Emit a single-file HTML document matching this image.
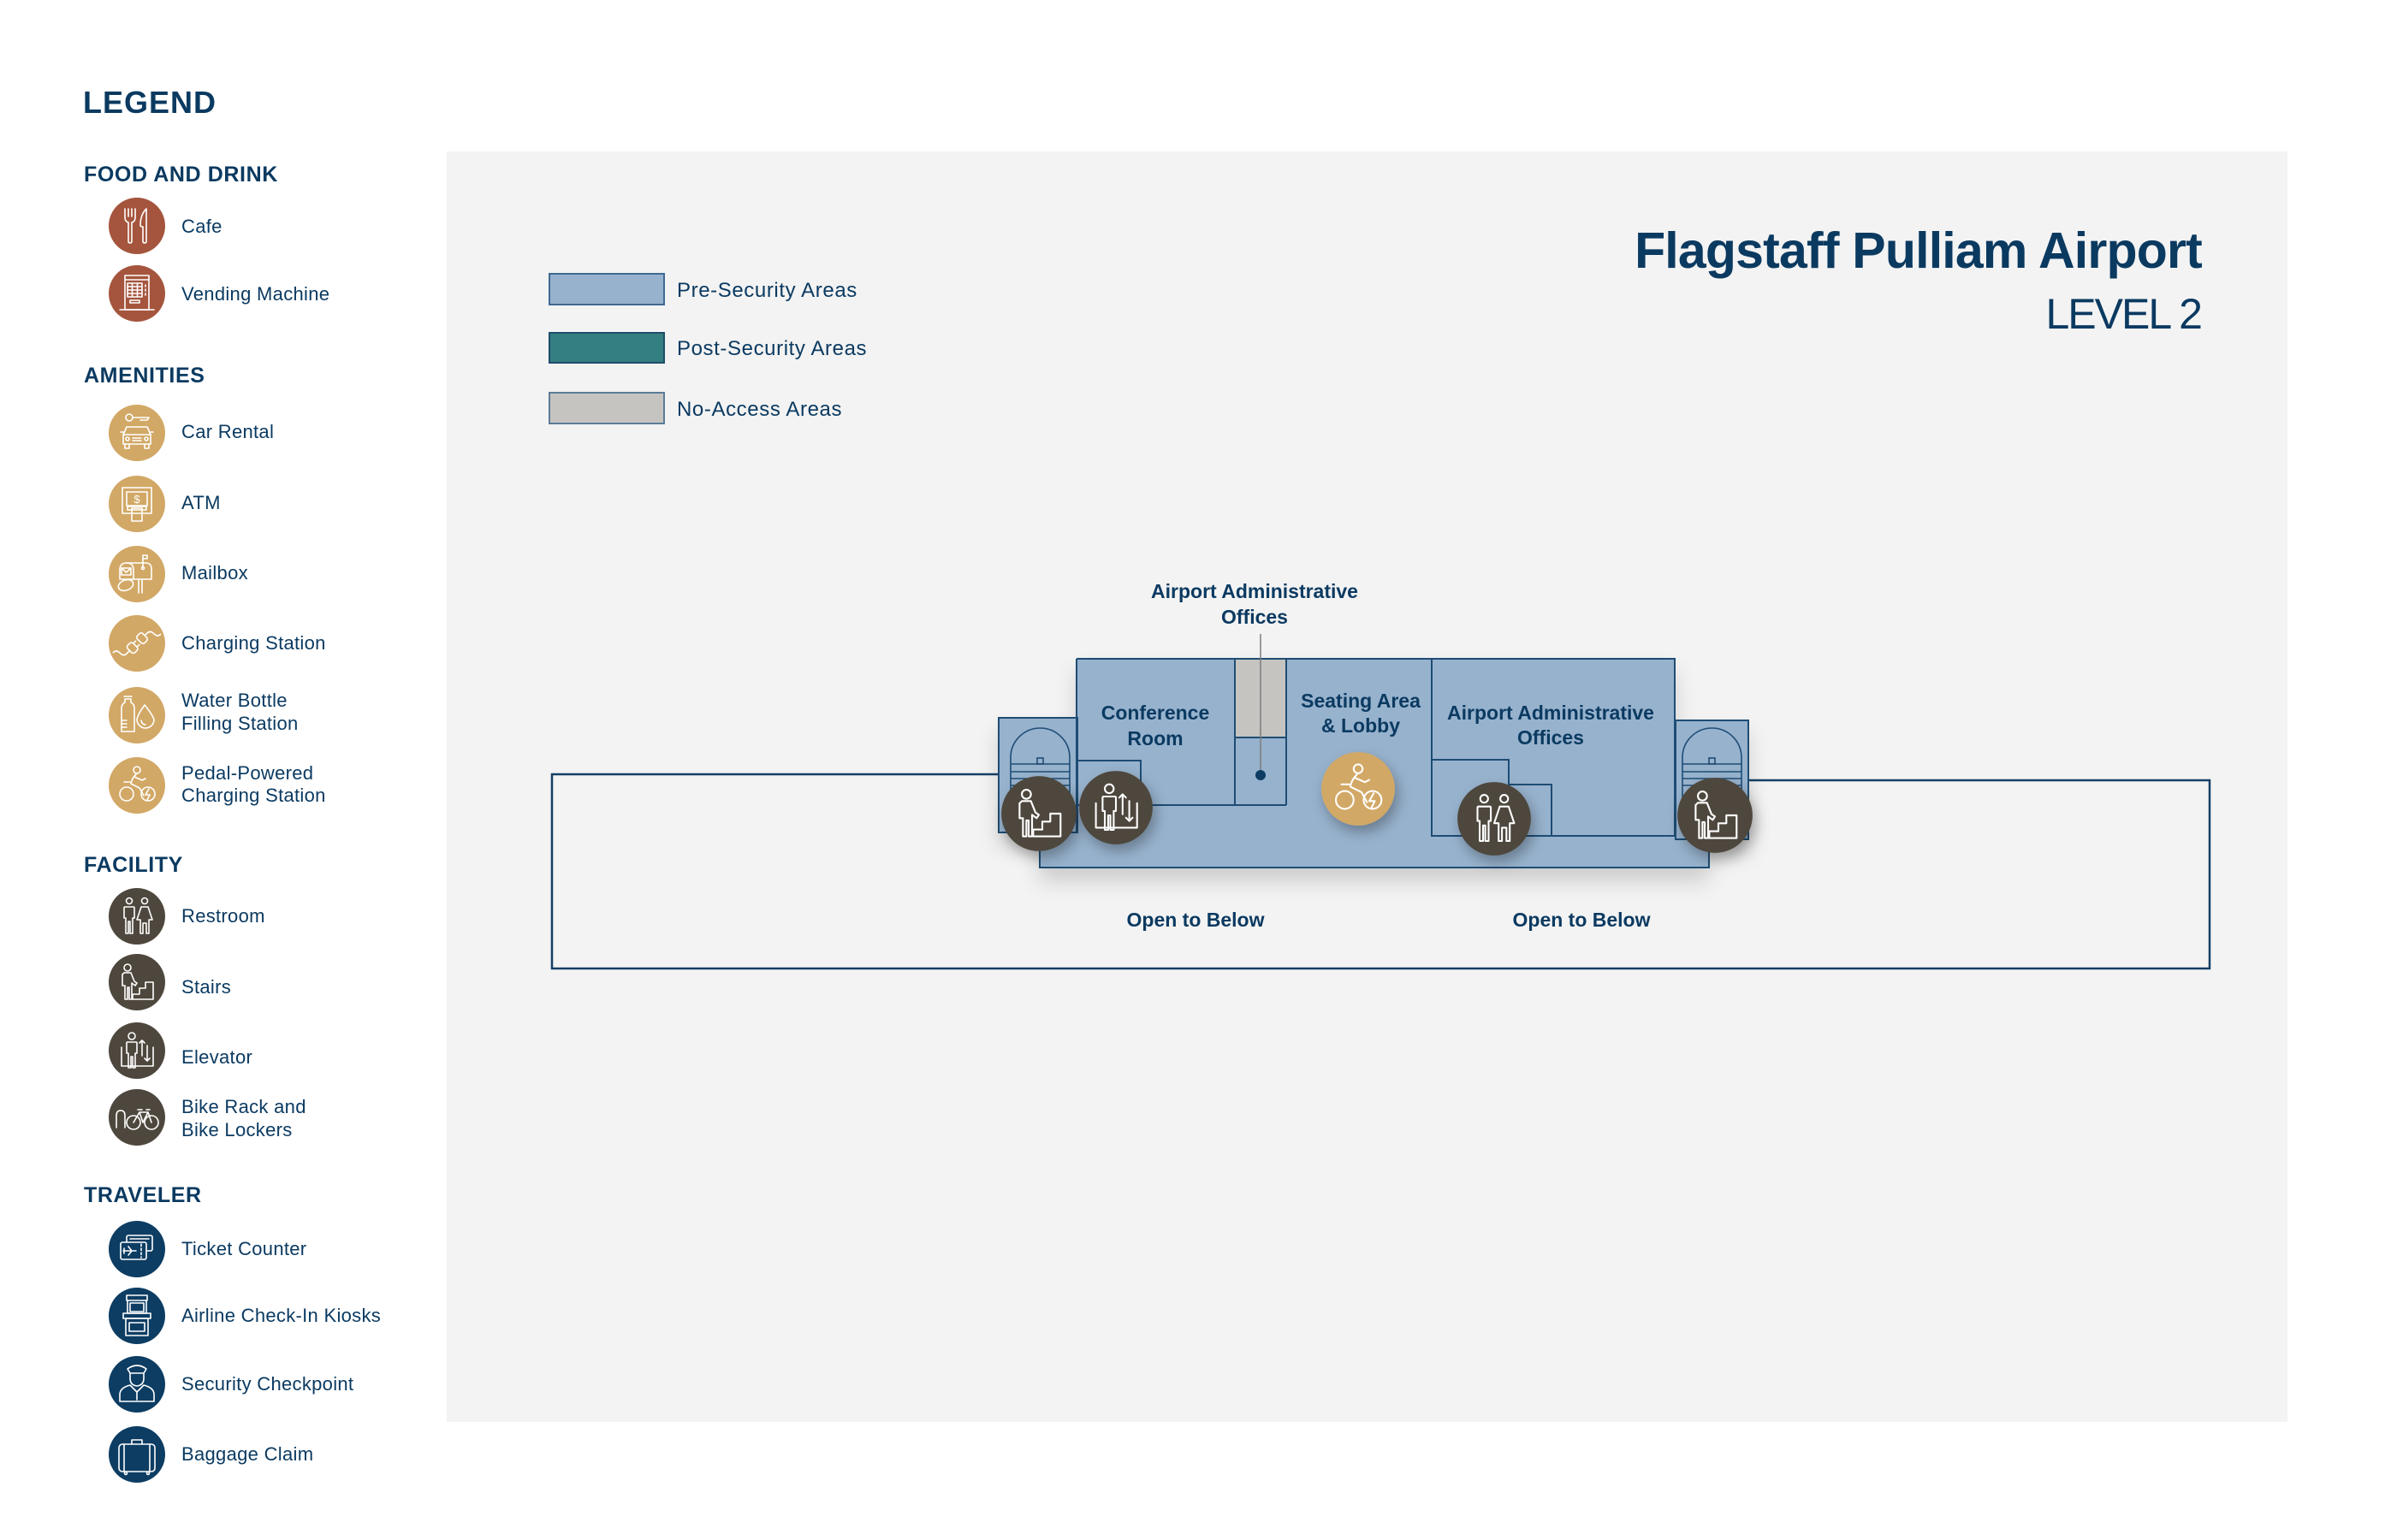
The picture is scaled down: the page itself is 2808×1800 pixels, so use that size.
<!DOCTYPE html>
<html><head><meta charset="utf-8"><style>
html,body{margin:0;padding:0;background:#fff;}
svg{display:block;}
text{font-family:"Liberation Sans",Arial,sans-serif;}
.ic{fill:none;stroke:#fff;stroke-width:1.6;stroke-linecap:round;stroke-linejoin:round;}
</style></head><body>
<svg width="2808" height="1800" viewBox="0 0 2808 1800" xmlns="http://www.w3.org/2000/svg">
<defs>
<filter id="bsh" x="-10%" y="-30%" width="120%" height="190%">
<feDropShadow dx="0" dy="16" stdDeviation="12" flood-color="#000" flood-opacity="0.16"/>
</filter>
<filter id="csh" x="-40%" y="-40%" width="190%" height="190%">
<feDropShadow dx="3" dy="6" stdDeviation="6" flood-color="#000" flood-opacity="0.3"/>
</filter>
<g id="i-cafe">
<path d="M-14,-20 V-10 Q-14,-5 -10,-4 V18 Q-10,20 -8,20 Q-6,20 -6,18 V-4 Q-2,-5 -2,-10 V-20"/>
<path d="M-10,-20 V-11 M-6,-20 V-11"/>
<path d="M11,-20 Q4,-13 4,-1 Q4,1 6,1 H7 V18 Q7,20 9,20 Q11,20 11,18 Z"/>
</g>
<g id="i-vend">
<rect x="-14" y="-21" width="28" height="40"/>
<path d="M-14,-16 H14"/>
<rect x="-11" y="-12" width="17" height="16"/>
<path d="M-11,-8 H6 M-11,-4 H6 M-11,0 H6 M-5.5,-12 V4 M0.5,-12 V4"/>
<path d="M10,-10 V-8 M10,-5 V-3 M10,0 V2"/>
<rect x="-8" y="8" width="11" height="3"/>
<path d="M-20,19 H20"/>
</g>
<g id="i-car">
<circle cx="-9" cy="-18" r="4"/>
<path d="M-5,-18 H14 L12,-15 H4"/>
<path d="M-16,2 L-12,-7 H12 L16,2 V13 H-16 Z"/>
<path d="M-16,2 H16"/>
<circle cx="-11" cy="7" r="2"/><circle cx="11" cy="7" r="2"/>
<path d="M-5,6 H5 M-5,9 H5"/>
<path d="M-14,13 V18 H-9 V13 M9,13 V18 H14 V13"/>
<path d="M-19,-1 H-16 M16,-1 H19"/>
</g>
<g id="i-atm">
<rect x="-17" y="-19" width="34" height="30"/>
<rect x="-12" y="-14" width="24" height="16"/>
<rect x="-11" y="3" width="22" height="4"/>
<rect x="-6" y="5" width="12" height="15"/>
</g>
<g id="i-mail">
<path d="M-20,6 V-5 Q-20,-13 -12,-13 H10 Q17,-13 17,-6 V6 Z"/>
<path d="M-4,6 V-5 Q-4,-13 -12,-13"/>
<rect x="-18" y="-7" width="11" height="8"/>
<path d="M-18,-7 L-12.5,-2 L-7,-7"/>
<path d="M7,-8 V-22 H12 V-18 H7"/>
<circle cx="7" cy="-7" r="1.5"/>
<path d="M2,6 V22 M6,6 V22"/>
<ellipse cx="-13" cy="13" rx="9" ry="6" transform="rotate(-20 -13 13)"/>
</g>
<g id="i-plug">
<g transform="rotate(45)">
<rect x="-6" y="-13" width="12" height="9" rx="3"/>
<path d="M0,-13 V-17 Q0,-22 6,-22 Q12,-22 12,-27"/>
<rect x="-6" y="3" width="12" height="9" rx="3"/>
<path d="M-3,3 V-1 M3,3 V-1"/>
<path d="M0,12 V17 Q0,22 -6,22 Q-12,22 -12,27"/>
</g>
</g>
<g id="i-water">
<path d="M-18,-8 Q-18,-13 -14,-15 V-19 H-7 V-15 Q-3,-13 -3,-8 V19 H-18 Z"/>
<path d="M-18,6 H-12 M-18,10 H-12 M-18,14 H-12"/>
<path d="M-15,-22 H-6"/>
<path d="M9,-12 Q1,-1 0,5 A10,10 0 0 0 20,5 Q18,-1 9,-12 Z"/>
<path d="M5,6 A5,5 0 0 0 10,11"/>
</g>
<g id="i-pedal">
<circle cx="0" cy="-18" r="4"/>
<path d="M-1,-13 Q-6,-8 -7,-2 L3,3 L8,12 M-3,-10 L6,-6 L10,-8"/>
<circle cx="-12" cy="10" r="8"/>
<circle cx="13" cy="10" r="8"/>
<path d="M14,4 L10,11 H15 L12,17"/>
<path d="M-15,-4 H-8"/>
</g>
<g id="i-rest">
<circle cx="-9" cy="-18" r="3.5"/>
<path d="M-14,-11 H-4 Q-3,-11 -3,-10 V2 H-5 V20 H-8 V6 H-10 V20 H-13 V2 H-15 V-10 Q-15,-11 -14,-11 Z"/>
<circle cx="9" cy="-18" r="3.5"/>
<path d="M5,-11 H13 L18,4 H14 V20 H11 V8 H7 V20 H4 V4 H0 Z"/>
</g>
<g id="i-stairs">
<circle cx="-11" cy="-17" r="4"/>
<path d="M-15,-11 H-7 L-3,-1 L0,1 L-2,4 L-6,1 V20 H-9 V6 H-11 V20 H-14 V4 H-17 V-9 Z"/>
<path d="M-5,20 V14 H3 V7 H10 V0 H19 V20 Z"/>
</g>
<g id="i-elev">
<circle cx="-6" cy="-17" r="4"/>
<path d="M-11,-10 H-1 Q0,-10 0,-9 V3 H-2 V20 H-5 V7 H-7 V20 H-10 V3 H-12 V-9 Q-12,-10 -11,-10 Z"/>
<path d="M6,-12 V6 M3,-9 L6,-12 L9,-9"/>
<path d="M12,-6 V12 M9,9 L12,12 L15,9"/>
<path d="M-18,-4 V18 H19 V-4"/>
</g>
<g id="i-bike">
<circle cx="-4" cy="6" r="8"/><circle cx="17" cy="6" r="8"/>
<path d="M-4,6 L3,-6 H13 L17,6 M3,-6 L7,6 L13,-6 M1,-9 H6 M11,-9 H15"/>
<path d="M-14,12 V-2 Q-14,-8 -19,-8 Q-24,-8 -24,-2 V12"/>
</g>
<g id="i-ticket">
<rect x="-12" y="-16" width="30" height="18" rx="2"/>
<path d="M-8,-12 H14"/>
<rect x="-19" y="-8" width="30" height="20" rx="2" fill="#0d3d63"/>
<path d="M-16,2 H-1 M-10,-3 L-6,2 L-10,7 M-15,-1 V5"/>
<path d="M5,-6 V10" stroke-dasharray="2.5,2.5"/>
</g>
<g id="i-kiosk">
<rect x="-12" y="-24" width="24" height="6"/>
<path d="M-11,-18 V-3 H11 V-18"/>
<rect x="-8" y="-15" width="16" height="10"/>
<rect x="-16" y="-3" width="32" height="6"/>
<rect x="-13" y="3" width="26" height="20"/>
<rect x="-9" y="8" width="18" height="10"/>
</g>
<g id="i-sec">
<path d="M-11,-18 Q0,-26 11,-18 L8,-13 H-8 Z"/>
<path d="M-8,-13 V-7 Q-8,1 0,2 Q8,1 8,-7 V-13"/>
<path d="M-20,20 V12 Q-20,4 -8,1 L0,9 L8,1 Q20,4 20,12 V20 Z"/>
<path d="M0,9 V18"/>
</g>
<g id="i-bag">
<rect x="-21" y="-12" width="42" height="32" rx="4"/>
<path d="M-6,-12 V-17 H6 V-12"/>
<path d="M-15,-12 V20 M15,-12 V20"/>
<circle cx="-13" cy="22" r="1.5"/><circle cx="13" cy="22" r="1.5"/>
</g>
</defs>

<rect width="2808" height="1800" fill="#fff"/>
<rect x="522" y="177" width="2151" height="1485" fill="#f3f3f3"/>

<!-- LEGEND -->
<g fill="#0b3a61">
<text x="97" y="132" font-size="36" font-weight="bold" letter-spacing="1">LEGEND</text>
<text x="98" y="212" font-size="25" font-weight="bold" letter-spacing="0.6">FOOD AND DRINK</text>
<text x="98" y="447" font-size="25" font-weight="bold" letter-spacing="0.6">AMENITIES</text>
<text x="98" y="1019" font-size="25" font-weight="bold" letter-spacing="0.6">FACILITY</text>
<text x="98" y="1405" font-size="25" font-weight="bold" letter-spacing="0.6">TRAVELER</text>
</g>
<g fill="#0b3a61" font-size="22" letter-spacing="0.3">
<text x="212" y="272">Cafe</text>
<text x="212" y="351">Vending Machine</text>
<text x="212" y="512">Car Rental</text>
<text x="212" y="595">ATM</text>
<text x="212" y="677">Mailbox</text>
<text x="212" y="759">Charging Station</text>
<text x="212" y="826">Water Bottle</text>
<text x="212" y="853">Filling Station</text>
<text x="212" y="911">Pedal-Powered</text>
<text x="212" y="937">Charging Station</text>
<text x="212" y="1078">Restroom</text>
<text x="212" y="1161">Stairs</text>
<text x="212" y="1243">Elevator</text>
<text x="212" y="1301">Bike Rack and</text>
<text x="212" y="1328">Bike Lockers</text>
<text x="212" y="1467">Ticket Counter</text>
<text x="212" y="1545">Airline Check-In Kiosks</text>
<text x="212" y="1625">Security Checkpoint</text>
<text x="212" y="1707">Baggage Claim</text>
</g>

<g transform="translate(160,264)"><circle r="33" fill="#a5553d"/><use href="#i-cafe" class="ic"/></g>
<g transform="translate(160,343)"><circle r="33" fill="#a5553d"/><use href="#i-vend" class="ic"/></g>
<g transform="translate(160,506)"><circle r="33" fill="#d2a866"/><use href="#i-car" class="ic"/></g>
<g transform="translate(160,589)"><circle r="33" fill="#d2a866"/><use href="#i-atm" class="ic"/><text x="0" y="-1" font-size="13" fill="#fff" text-anchor="middle">$</text></g>
<g transform="translate(160,671)"><circle r="33" fill="#d2a866"/><use href="#i-mail" class="ic"/></g>
<g transform="translate(160,752)"><circle r="33" fill="#d2a866"/><use href="#i-plug" class="ic"/></g>
<g transform="translate(160,836)"><circle r="33" fill="#d2a866"/><use href="#i-water" class="ic"/></g>
<g transform="translate(160,918)"><circle r="33" fill="#d2a866"/><use href="#i-pedal" class="ic"/></g>
<g transform="translate(160,1071)"><circle r="33" fill="#4e473d"/><use href="#i-rest" class="ic"/></g>
<g transform="translate(160,1148)"><circle r="33" fill="#4e473d"/><use href="#i-stairs" class="ic"/></g>
<g transform="translate(160,1228)"><circle r="33" fill="#4e473d"/><use href="#i-elev" class="ic"/></g>
<g transform="translate(160,1306)"><circle r="33" fill="#4e473d"/><use href="#i-bike" class="ic"/></g>
<g transform="translate(160,1460)"><circle r="33" fill="#0d3d63"/><use href="#i-ticket" class="ic"/></g>
<g transform="translate(160,1538)"><circle r="33" fill="#0d3d63"/><use href="#i-kiosk" class="ic"/></g>
<g transform="translate(160,1618)"><circle r="33" fill="#0d3d63"/><use href="#i-sec" class="ic"/></g>
<g transform="translate(160,1700)"><circle r="33" fill="#0d3d63"/><use href="#i-bag" class="ic"/></g>

<!-- Title -->
<text x="2573" y="313" text-anchor="end" font-size="59" font-weight="bold" letter-spacing="-0.8" fill="#0b3a61">Flagstaff Pulliam Airport</text>
<text x="2572" y="384" text-anchor="end" font-size="50" letter-spacing="-2" fill="#0b3a61">LEVEL 2</text>

<!-- Area swatches -->
<rect x="642" y="320" width="134" height="36" fill="#97b2cd" stroke="#3e6a92" stroke-width="2"/>
<rect x="642" y="389" width="134" height="35" fill="#347f80" stroke="#1e4c6c" stroke-width="2"/>
<rect x="642" y="459" width="134" height="36" fill="#c5c4c0" stroke="#5b7c9a" stroke-width="2"/>
<g fill="#0b3a61" font-size="24" letter-spacing="0.6">
<text x="791" y="347">Pre-Security Areas</text>
<text x="791" y="415">Post-Security Areas</text>
<text x="791" y="486">No-Access Areas</text>
</g>

<!-- Outline (open to below) -->
<path d="M1167,905 H645 V1132 H2582 V912 H2043" stroke="#143f66" stroke-width="2.5" fill="none"/>

<!-- Building -->
<g filter="url(#bsh)" fill="#97b2cd">
<rect x="1258" y="770" width="699" height="207"/>
<rect x="1215" y="941" width="782" height="73"/>
<rect x="1167" y="839" width="92" height="134"/>
<rect x="1958" y="842" width="85" height="139"/>
</g>
<rect x="1443" y="770" width="60" height="92" fill="#c5c4c0"/>
<g stroke="#1e4c74" stroke-width="2" fill="none">
<path d="M1258,770 H1957 V977"/>
<path d="M1258,770 V973"/>
<rect x="1167" y="839" width="92" height="134"/>
<path d="M1215,973 V1014 H1997 V981"/>
<rect x="1958" y="842" width="85" height="139"/>
<path d="M1259,941 H1503"/>
<path d="M1259,889 H1333 V941"/>
<path d="M1443,770 V941 M1503,770 V941 M1443,862 H1503"/>
<path d="M1673,770 V977 H1957"/>
<path d="M1673,888 H1763 V917 H1813 V977"/>
</g>
<g stroke="#1e4c74" stroke-width="1.6" fill="none">
<path d="M1181,935 V885.5 A34.5,34.5 0 0 1 1250,885.5 V935"/>
<path d="M1181,893 H1250 M1181,902 H1250 M1181,910 H1250 M1181,918 H1250"/>
<rect x="1212" y="886" width="7" height="7"/>
<path d="M1966,935 V885.5 A34.5,34.5 0 0 1 2035,885.5 V935"/>
<path d="M1966,893 H2035 M1966,902 H2035 M1966,910 H2035 M1966,918 H2035"/>
<rect x="1997" y="886" width="7" height="7"/>
</g>

<!-- leader -->
<line x1="1473" y1="741" x2="1473" y2="906" stroke="#7d7d7d" stroke-width="1.5"/>
<circle cx="1473" cy="906" r="6" fill="#0d3b62"/>

<!-- map labels -->
<g fill="#0b3a61" font-size="23" font-weight="bold" text-anchor="middle">
<text x="1466" y="699">Airport Administrative</text>
<text x="1466" y="729">Offices</text>
<text x="1350" y="841">Conference</text>
<text x="1350" y="871">Room</text>
<text x="1590" y="827">Seating Area</text>
<text x="1590" y="856">&amp; Lobby</text>
<text x="1812" y="841">Airport Administrative</text>
<text x="1812" y="870">Offices</text>
<text x="1397" y="1083">Open to Below</text>
<text x="1848" y="1083">Open to Below</text>
</g>

<!-- map icons -->
<g transform="translate(1214,951) scale(1.33)"><circle r="33" fill="#4e473d" filter="url(#csh)"/><use href="#i-stairs" class="ic"/></g>
<g transform="translate(1304,944) scale(1.3)"><circle r="33" fill="#4e473d" filter="url(#csh)"/><use href="#i-elev" class="ic"/></g>
<g transform="translate(1587,922) scale(1.3)"><circle r="33" fill="#d2a866" filter="url(#csh)"/><use href="#i-pedal" class="ic"/></g>
<g transform="translate(1746,957) scale(1.3)"><circle r="33" fill="#4e473d" filter="url(#csh)"/><use href="#i-rest" class="ic"/></g>
<g transform="translate(2004,953) scale(1.33)"><circle r="33" fill="#4e473d" filter="url(#csh)"/><use href="#i-stairs" class="ic"/></g>
</svg>
</body></html>
